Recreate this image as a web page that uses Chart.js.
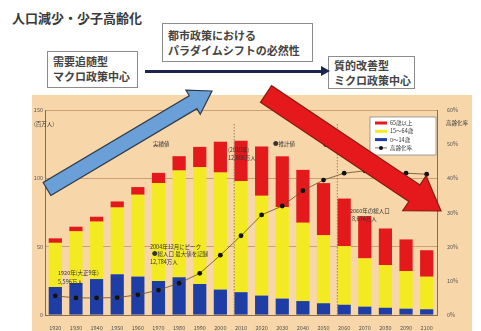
<!DOCTYPE html>
<html>
<head>
<meta charset="utf-8">
<script src="https://cdn.jsdelivr.net/npm/chart.js@4"></script>
<style>
  body { margin: 0; width: 481px; height: 331px; background: #fff; position: relative; overflow: hidden;
         font-family: "Noto Sans CJK JP", sans-serif; color: #333; }
  #panel { position: absolute; left: 32px; top: 95px; width: 440px; height: 236px; background: #f7d6a9; }
  #title { position: absolute; left: 12px; top: 8px; font-size: 13px; font-weight: 700; color: #3a3a3a; white-space: nowrap; }
  .box { position: absolute; background: #fff; border: 1px solid #8c8c8c; font-size: 11px; font-weight: 700;
         line-height: 15px; padding: 2px 5px; box-sizing: border-box; white-space: nowrap; color: #444; }
  #hline { position: absolute; left: 145px; top: 70px; width: 177px; height: 3px; background: #1b2550; }
  #hhead { position: absolute; left: 321px; top: 66px; width: 0; height: 0;
           border-left: 9px solid #1b2550; border-top: 5.5px solid transparent; border-bottom: 5.5px solid transparent; }
  canvas { position: absolute; left: 0; top: 0; }
</style>
</head>
<body>
<div id="panel"></div>
<div id="title">人口減少・少子高齢化</div>
<div class="box" style="left:47px;top:51px;width:91px;height:37px;">需要追随型<br>マクロ政策中心</div>
<div class="box" style="left:162px;top:23px;width:151px;height:39px;padding-top:4px;">都市政策における<br>パラダイムシフトの必然性</div>
<div class="box" style="left:328px;top:56px;width:87px;height:33px;padding-top:1px;">質的改善型<br>ミクロ政策中心</div>
<div id="hline"></div>
<div id="hhead"></div>
<canvas id="chart" width="481" height="331"></canvas>
<script>
// 人口（百万人）と高齢化率（%）
const years = ['1920', '1930', '1940', '1950', '1960', '1970', '1980', '1990', '2000', '2010',
               '2020', '2030', '2040', '2050', '2060', '2070', '2080', '2090', '2100'];
const age0to14 = [20.5, 23.4, 26.3, 29.8, 28.1, 24.9, 27.6, 22.7, 18.6, 16.7,
                  14.2, 12.0, 10.2, 8.6, 7.5, 6.1, 5.3, 4.6, 4.2];
const age15to64 = [32.3, 37.8, 42.0, 48.8, 59.9, 71.6, 78.1, 85.5, 85.6, 81.3,
                   73.0, 66.9, 57.3, 49.7, 42.9, 35.3, 31.2, 27.5, 23.8];
const age65over = [3.3, 3.4, 3.6, 4.5, 5.6, 7.5, 10.5, 14.8, 22.6, 29.5,
                   36.1, 37.2, 38.7, 38.2, 34.8, 30.9, 26.8, 23.2, 19.4];
const agingRate = [5.6, 5.0, 5.0, 5.1, 5.9, 7.3, 9.3, 12.2, 17.5, 23.2,
                   29.3, 31.9, 36.4, 39.5, 41.5, 42.2, 41.9, 41.5, 41.2];

const legendItems = [
  { label: '65歳以上', color: '#e3191c', type: 'bar' },
  { label: '15～64歳', color: '#f3ea22', type: 'bar' },
  { label: '0～14歳', color: '#1e3ea6', type: 'bar' },
  { label: '高齢化率', color: '#111', type: 'dot' }
];

const JP = '"Noto Sans CJK JP", sans-serif';

function drawArrow(ctx, x0, y0, x1, y1, w, hw, hl, fill, stroke) {
  const dx = x1 - x0, dy = y1 - y0, L = Math.hypot(dx, dy);
  const ux = dx / L, uy = dy / L, nx = -uy, ny = ux;
  const bx = x1 - ux * hl, by = y1 - uy * hl;
  ctx.beginPath();
  ctx.moveTo(x0 + nx * w, y0 + ny * w);
  ctx.lineTo(bx + nx * w, by + ny * w);
  ctx.lineTo(bx + nx * hw, by + ny * hw);
  ctx.lineTo(x1, y1);
  ctx.lineTo(bx - nx * hw, by - ny * hw);
  ctx.lineTo(bx - nx * w, by - ny * w);
  ctx.lineTo(x0 - nx * w, y0 - ny * w);
  ctx.closePath();
  ctx.fillStyle = fill;
  ctx.fill();
  ctx.lineWidth = 1.2;
  ctx.strokeStyle = stroke;
  ctx.stroke();
}

const decor = {
  id: 'decor',
  afterDraw(chart) {
    const ctx = chart.ctx;
    const x = chart.scales.x;
    const area = chart.chartArea;
    ctx.save();

    // 実績値 / 推計値 / 参考推計 の区切り
    const step = x.getPixelForValue(1) - x.getPixelForValue(0);
    ctx.strokeStyle = '#7d6a58';
    ctx.lineWidth = 0.8;
    ctx.setLineDash([1.5, 1.5]);
    [8.67, 13.67].forEach(v => {
      const px = x.getPixelForValue(0) + v * step;
      ctx.beginPath();
      ctx.moveTo(px, 124);
      ctx.lineTo(px, area.bottom);
      ctx.stroke();
    });
    ctx.setLineDash([]);

    // 注記
    ctx.fillStyle = '#333';
    ctx.font = '5.5px ' + JP;
    ctx.textBaseline = 'middle';
    ctx.textAlign = 'left';
    ctx.fillText('(百万人)', 34, 124);
    ctx.fillText('高齢化率', 446, 123);
    ctx.fillText('実績値', 153, 144);
    ctx.fillText('●推計値', 273, 144);
    ctx.fillText('●参考推計', 323, 145);
    ctx.fillText('(2010年)', 228, 150);
    ctx.fillText('12,806万人', 228, 158);
    ctx.fillText('2004年12月にピーク', 150, 247);
    ctx.fillText('●総人口 最大値を記録', 152, 254);
    ctx.fillText('12,784万人', 150, 262);
    ctx.fillText('1920年(大正9年)', 58, 273);
    ctx.fillText('5,596万人', 58, 282);
    ctx.fillText('2060年の総人口', 350, 211);
    ctx.fillText('8,674万人', 352, 219);

    // 凡例
    ctx.fillStyle = '#fff';
    ctx.strokeStyle = '#8c8c8c';
    ctx.lineWidth = 0.8;
    ctx.fillRect(370, 117, 66, 38);
    ctx.strokeRect(370, 117, 66, 38);
    legendItems.forEach((it, i) => {
      const cy = 123 + i * 8.3;
      if (it.type === 'bar') {
        ctx.fillStyle = it.color;
        ctx.fillRect(375, cy - 1.5, 12, 3);
      } else {
        ctx.strokeStyle = '#6b4a2a';
        ctx.beginPath();
        ctx.moveTo(375, cy);
        ctx.lineTo(387, cy);
        ctx.stroke();
        ctx.fillStyle = it.color;
        ctx.beginPath();
        ctx.arc(381, cy, 2, 0, Math.PI * 2);
        ctx.fill();
      }
      ctx.fillStyle = '#333';
      ctx.fillText(it.label, 390, cy);
    });

    // 大きな矢印
    drawArrow(ctx, 47, 189, 212, 91, 7.5, 14, 22, '#6a9fd8', '#2d3a4a');
    drawArrow(ctx, 266, 94, 441, 211, 10, 21, 32, '#e5191b', '#8a1a10');
    ctx.restore();
  }
};

new Chart(document.getElementById('chart'), {
  type: 'bar',
  data: {
    labels: years,
    datasets: [
      { type: 'line', label: '高齢化率', data: agingRate, yAxisID: 'y1', order: 0,
        borderColor: '#6b4a2a', borderWidth: 0.8, pointRadius: 2.4, pointBackgroundColor: '#111',
        pointBorderWidth: 0, tension: 0 },
      { label: '0～14歳', data: age0to14, backgroundColor: '#1e3ea6', order: 1, stack: 'p' },
      { label: '15～64歳', data: age15to64, backgroundColor: '#f3ea22', order: 1, stack: 'p' },
      { label: '65歳以上', data: age65over, backgroundColor: '#e3191c', order: 1, stack: 'p' }
    ]
  },
  options: {
    responsive: false,
    animation: false,
    layout: { padding: { left: 33, right: 11, top: 110, bottom: 0 } },
    datasets: { bar: { barPercentage: 0.64, categoryPercentage: 1.0, borderWidth: 0 } },
    plugins: { legend: { display: false }, tooltip: { enabled: false } },
    scales: {
      x: {
        stacked: true,
        grid: { display: false },
        border: { color: '#8b6b4b' },
        ticks: { font: { size: 5.5, family: JP }, color: '#555', maxRotation: 0, autoSkip: false, padding: 2 },
        afterFit: s => { s.height = 16; }
      },
      y: {
        stacked: true, min: 0, max: 150,
        grid: { color: '#bf9062', lineWidth: 0.8, drawTicks: false },
        border: { color: '#8b6b4b' },
        ticks: { stepSize: 50, font: { size: 5.5, family: JP }, color: '#555', padding: 2 },
        afterFit: s => { s.width = 12; }
      },
      y1: {
        position: 'right', min: 0, max: 60,
        grid: { display: false, drawTicks: false },
        border: { color: '#8b6b4b' },
        ticks: { stepSize: 10, font: { size: 5.5, family: JP }, color: '#555', padding: 10,
                 callback: v => v + '%' },
        afterFit: s => { s.width = 33; }
      }
    }
  },
  plugins: [decor]
});
</script>
</body>
</html>
